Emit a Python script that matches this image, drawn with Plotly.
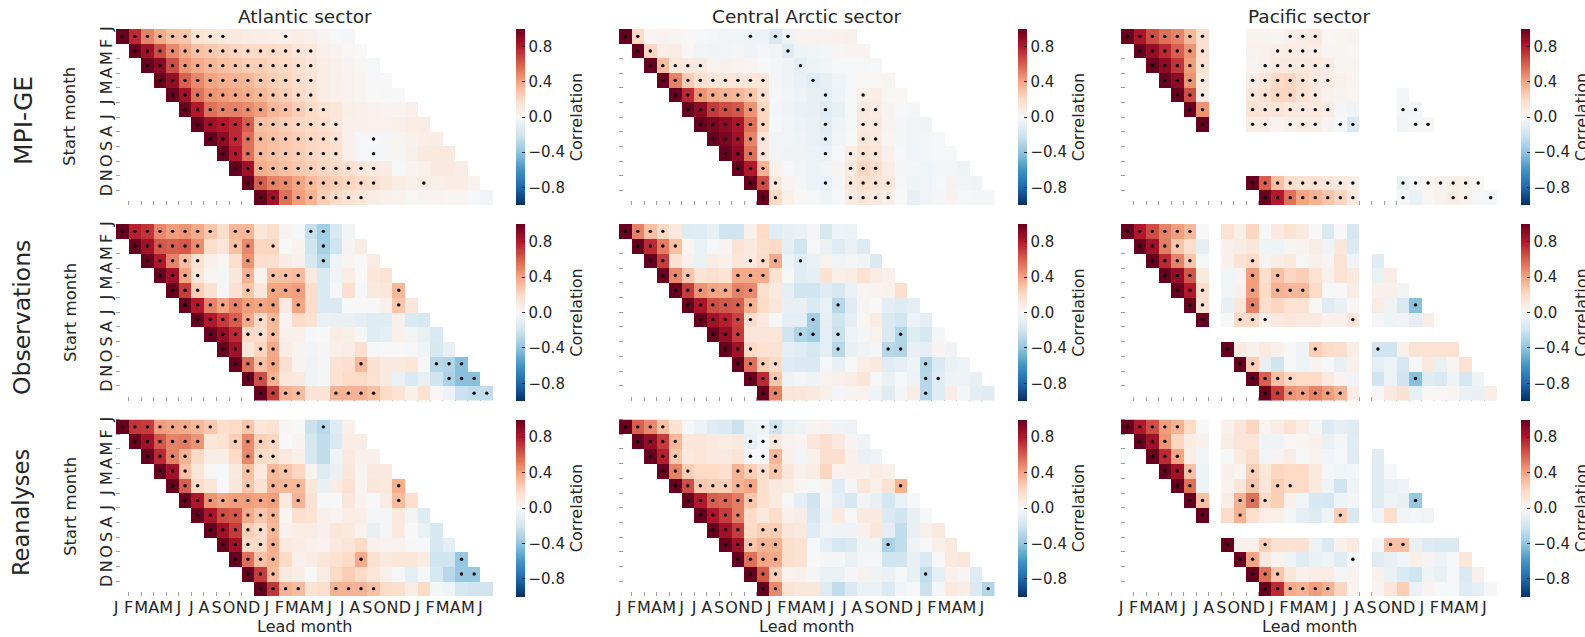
import plotly.graph_objects as go

N = None
MONTHS = ["J","F","M","A","M","J","J","A","S","O","N","D"]
LEAD_LABELS = (MONTHS * 3)[:30]
SECTORS = ["Atlantic sector", "Central Arctic sector", "Pacific sector"]
DATASETS = ["MPI-GE", "Observations", "Reanalyses"]
CBAR_TICKS = [-0.8, -0.4, 0.0, 0.4, 0.8]
RDBU_R = ["#053061","#2166ac","#4393c3","#92c5de","#d1e5f0","#f7f7f7",
          "#fddbc7","#f4a582","#d6604d","#b2182b","#67001f"]

# Each row: correlation at lead 0..18, the first entry is the start month itself.
MPI_ATL = [
[1,.75,.5,.38,.3,.28,.15,.12,.11,.1,.08,.07,.06,.05,.07,.06,.03,-.01,-.02],
[1,.85,.65,.48,.38,.3,.27,.25,.22,.2,.2,.2,.18,.13,.12,.05,.03,.01,0],
[1,.9,.65,.45,.38,.33,.3,.28,.25,.25,.22,.2,.17,.13,.07,.05,.03,.01,-.01],
[1,.88,.6,.48,.4,.36,.35,.33,.28,.25,.22,.18,.15,.07,.05,.04,.02,0,0],
[1,.85,.55,.45,.42,.4,.37,.33,.28,.25,.2,.15,.08,.05,.04,.02,0,-.01,0],
[1,.8,.55,.5,.5,.47,.42,.33,.3,.25,.2,.15,.12,.06,.05,.04,.03,.03,.05],
[1,.85,.8,.75,.6,.3,.28,.25,.22,.2,.17,.12,.05,.05,.04,.04,.06,.08,.08],
[1,.9,.75,.55,.33,.3,.27,.24,.22,.2,.15,.05,-.01,-.01,-.02,.02,.05,.07,.08],
[1,.8,.55,.33,.3,.27,.25,.22,.2,.16,.05,-.01,-.02,-.02,.02,.06,.1,.1,.1],
[1,.85,.37,.33,.3,.27,.25,.22,.2,.17,.13,.1,.08,-.01,.03,.05,.1,.1,.08],
[1,.6,.5,.47,.4,.32,.27,.25,.22,.2,.17,.12,.08,.06,.07,.06,.07,.07,.04],
[1,.85,.55,.42,.35,.25,.2,.15,.13,.07,.05,.04,.01,.03,.03,.02,.02,-.01,-.03],
]
MPI_ATL_SIG = [
[0,1,2,3,4,5,6,7,8,13],[1,2,3,4,5,6,7,8,9,10,11,12,13,14,15],[2,3,4,5,6,7,8,9,10,11,12,13,14,15],
[3,4,5,6,7,8,9,10,11,12,13,14,15],[4,5,6,7,8,9,10,11,12,13,14,15],[5,6,7,8,9,10,11,12,13,14,15,16],
[6,7,8,9,10,11,12,13,14,15,16,17],[7,8,9,10,11,12,13,14,15,16,17,20],[8,9,10,11,12,13,14,15,16,17,20],
[9,10,11,12,13,14,15,16,17,18,19,20],[10,11,12,13,14,15,16,17,18,19,20,24],[11,12,13,14,15,16,17,18,19],
]
OBS_ATL = [
[1,.78,.72,.48,.42,.45,.38,.28,.18,.33,.33,.12,.18,.03,-.01,-.23,-.35,-.17,-.03],
[1,.85,.62,.6,.62,.47,.18,.13,.3,.48,.22,.22,0,.03,-.2,-.33,-.2,.03,.08],
[1,.8,.5,.32,.15,.05,.02,.18,.45,.18,.17,.08,.05,-.17,-.28,-.05,.02,0,.08],
[1,.85,.4,.12,.02,-.02,.12,.35,.03,.3,.3,.32,.1,-.15,-.05,.08,0,.12,.15],
[1,.7,.25,.15,-.01,.15,.28,.12,.4,.4,.42,.18,-.15,-.02,.17,-.01,.1,.12,.33],
[1,.8,.5,.4,.5,.42,.4,.42,.1,.4,.18,-.15,-.15,0,0,0,.05,.28,.12],
[1,.8,.7,.6,.38,.2,.33,.03,.2,.15,-.07,-.08,-.08,-.1,-.12,-.12,.05,-.15,-.17],
[1,.88,.75,.2,.18,.32,.05,.05,-.01,0,.08,.06,-.02,-.12,-.1,.05,-.03,-.08,-.15],
[1,.85,.13,.22,.38,.08,.03,-.03,-.02,.06,.08,.17,-.01,0,0,-.01,-.05,-.17,-.08],
[1,.55,.3,.4,.17,.03,-.05,-.02,.15,.17,.33,.15,.1,.1,.12,-.01,-.28,-.3,-.42],
[1,.65,.35,.12,.1,-.05,-.02,.15,.2,.2,.15,.1,-.07,-.15,-.08,-.2,-.32,-.42,-.42],
[1,.7,.35,.32,.14,.14,.35,.35,.35,.3,.2,.15,.05,.15,.01,-.06,-.22,-.25,-.25],
]
OBS_ATL_SIG = [
[0,1,2,3,4,5,6,7,9,10,15,16],[1,2,3,4,5,6,9,10,12,16],[2,3,4,5,6,10,16],[3,4,5,6,10,12,13,14],
[4,5,6,10,12,13,14,22],[5,6,7,8,9,10,11,12,14,22],[6,7,8,9,10,11,12],[7,8,9,10,11,12],
[8,9,11,12],[9,10,11,12,19,25,26,27],[10,11,12,26,27,28],[11,12,13,14,17,18,19,20,28,29],
]
REA_ATL = [
[1,.72,.7,.42,.4,.38,.33,.27,.18,.2,.28,.12,.15,.02,0,-.22,-.28,-.12,.05],
[1,.85,.62,.5,.52,.45,.12,.15,.25,.48,.25,.22,0,.03,-.18,-.25,-.15,.08,.08],
[1,.75,.5,.35,.2,.08,.07,.2,.48,.2,.18,.1,.06,-.17,-.25,-.05,.1,.05,.05],
[1,.85,.3,.12,.01,-.01,.1,.3,.1,.33,.28,.22,.03,-.13,-.07,.12,.02,.1,.1],
[1,.6,.2,.13,0,.12,.28,.15,.35,.33,.33,.12,-.08,.08,.15,.02,.12,.1,.37],
[1,.82,.45,.4,.42,.42,.4,.42,.1,.35,.15,0,0,.12,.03,0,.08,.32,.17],
[1,.82,.65,.62,.38,.28,.35,.02,.17,.15,.05,.03,.07,.07,-.02,-.02,.1,-.03,-.12],
[1,.85,.7,.25,.2,.33,.05,.07,.08,.05,.12,.1,.04,-.08,-.02,.1,0,-.07,-.17],
[1,.85,.2,.2,.37,.1,.08,.05,.04,.1,.13,.2,.05,.04,.04,-.01,-.01,-.17,-.1],
[1,.55,.3,.35,.2,.05,.08,.12,.15,.2,.38,.15,.1,.12,.12,.08,-.2,-.2,-.38],
[1,.7,.32,.1,.07,0,.08,.2,.25,.2,.13,.06,-.01,-.1,-.02,-.18,-.28,-.38,-.38],
[1,.72,.35,.32,.15,.18,.35,.35,.35,.3,.2,.18,.08,.2,-.02,-.05,-.18,-.2,-.2],
]
REA_ATL_SIG = [
[0,1,2,3,4,5,6,7,10,16],[1,2,3,4,5,6,9,10,11,12],[2,3,4,5,10,11,12],[3,4,5,10,12,13],
[4,5,6,10,12,13,14,22],[5,6,7,8,9,10,11,12,14,22],[6,7,8,9,10,11,12],[7,8,9,10,11,12],
[8,9,10,11,12],[9,10,11,12,19,27],[10,11,12,27,28],[11,12,13,14,17,18,19,20],
]
MPI_CEN = [
[1,.2,.02,.03,.02,.01,-.01,-.02,-.03,-.03,-.05,-.06,-.15,-.05,.04,.04,.04,.05,.06],
[1,.22,.07,.08,.01,-.03,-.04,-.03,-.02,-.04,-.02,-.03,-.13,-.05,-.03,-.02,.02,.03,.03],
[1,.32,.12,.1,.1,.04,.05,.04,.02,0,-.02,-.04,-.1,-.05,-.03,-.01,-.01,-.01,0],
[1,.5,.25,.17,.12,.12,.12,.12,.13,-.02,-.05,-.08,-.12,-.08,-.03,-.01,.01,.01,.02],
[1,.75,.45,.38,.35,.33,.28,.17,-.01,-.03,-.06,-.08,-.1,-.06,-.01,.06,.07,.01,.01],
[1,.9,.7,.65,.62,.45,.22,-.02,-.04,-.07,-.08,-.12,-.08,-.01,.1,.08,.03,-.01,-.02],
[1,.95,.9,.82,.55,.22,-.01,-.03,-.06,-.07,-.11,-.05,-.01,.1,.1,.03,-.02,-.03,-.04],
[1,.95,.85,.5,.12,-.03,-.03,-.05,-.07,-.1,-.03,0,.12,.1,.02,-.02,-.03,-.02,-.01],
[1,.9,.55,.13,-.03,-.04,-.04,-.06,-.07,-.01,.08,.15,.13,.05,-.01,-.03,-.02,-.01,-.01],
[1,.8,.35,.04,-.01,-.03,-.06,-.03,.03,.1,.22,.17,.07,-.02,-.02,-.03,-.02,-.02,-.05],
[1,.65,.12,.03,-.02,-.06,-.07,-.02,.12,.17,.15,.12,-.01,-.05,-.03,-.01,.04,-.03,-.04],
[1,.2,.06,.01,-.01,-.05,-.01,.08,.13,.1,.06,0,-.08,-.03,-.02,.04,-.01,-.02,-.02],
]
MPI_CEN_SIG = [
[0,1,10,12,13],[1,2,13],[2,3,4,5,6,14],[3,4,5,6,7,8,9,10,11,15],[4,5,6,7,8,9,10,11,16,19],
[5,6,7,8,9,10,11,16,19,20],[6,7,8,9,10,11,16,19,20],[7,8,9,10,11,16,19,20],[8,9,10,11,16,18,19,20],
[9,10,11,18,19,20],[10,11,12,16,18,19,20,21],[11,12,18,19,20,21],
]
OBS_CEN = [
[1,.5,.3,.2,.1,-.13,-.12,-.08,-.2,-.2,.05,.2,-.12,-.08,-.07,-.02,-.17,-.05,-.06],
[1,.75,.52,.3,.02,-.07,-.01,.03,.15,.1,.18,.2,-.1,-.2,-.01,-.07,-.12,-.07,-.13],
[1,.7,.15,.05,-.07,.08,.05,.12,.1,.2,.38,-.05,-.12,-.07,.04,-.03,-.02,-.03,-.15],
[1,.48,.28,.14,.17,.14,.38,.38,.38,.15,-.01,-.12,-.1,.15,.06,.08,.15,.08,.05],
[1,.7,.45,.4,.38,.5,.48,.18,.1,-.1,-.2,-.2,-.12,-.17,-.07,.02,.03,.04,.17],
[1,.82,.65,.62,.6,.35,.2,.12,-.08,-.08,-.15,-.07,-.28,-.12,.02,0,-.1,-.13,-.1],
[1,.85,.78,.68,.18,.1,.01,-.1,-.1,-.35,-.08,-.2,-.1,.01,.08,-.15,-.2,-.06,-.1],
[1,.88,.7,.13,.13,.12,-.2,-.3,-.35,-.1,-.22,-.06,-.02,.04,-.15,-.3,-.12,-.17,-.02],
[1,.85,.2,.15,.15,-.1,-.12,-.17,-.1,-.28,-.08,-.05,-.02,-.28,-.3,-.08,-.1,.03,-.04],
[1,.55,.25,.2,-.13,-.15,-.15,-.01,-.08,-.01,.07,.1,-.12,-.1,-.05,-.3,-.15,-.07,-.06],
[1,.75,.28,-.05,-.02,-.04,.04,.05,.08,.12,-.01,-.07,-.01,-.06,-.28,-.12,-.06,-.06,-.08],
[1,.5,.13,.12,.1,.06,-.02,.03,.04,-.05,-.12,-.02,.08,-.28,-.12,.08,-.02,-.1,-.12],
]
OBS_CEN_SIG = [
[0,1,2,3],[1,2,3,4],[2,3,10,11,12,14],[3,4,5,9,10,11],[4,5,6,7,8,9,10],[5,6,7,8,9,10,17],
[6,7,8,9,10,15],[7,8,9,14,15,17,22],[8,9,10,17,21,22],[9,10,11,12,24],[10,11,12,24,25],[11,12,24],
]
REA_CEN = [
[1,.6,.48,.3,.15,-.01,-.06,-.12,-.15,-.22,-.06,-.04,-.2,-.07,-.06,.03,.04,-.05,-.06],
[1,.88,.7,.33,.12,.12,.1,.08,.1,-.07,-.02,.12,.04,.03,.12,.17,.1,.03,-.04],
[1,.78,.28,.1,.12,.1,.1,.14,-.01,-.01,.33,.05,-.03,.05,.17,.17,.05,-.07,-.04],
[1,.5,.25,.2,.2,.17,.35,.25,.17,.28,.12,.05,.08,.22,.04,.05,.05,.08,.06],
[1,.65,.27,.25,.25,.35,.4,.17,.1,.08,.02,-.01,.03,-.12,-.02,.12,.06,.15,.35],
[1,.8,.6,.58,.52,.28,.17,.1,.01,-.1,-.2,-.02,-.1,-.17,-.03,-.08,-.18,-.07,-.01],
[1,.82,.7,.52,.2,.1,.18,.05,.08,-.17,-.05,.1,-.01,.1,.1,-.15,-.2,-.08,0],
[1,.85,.7,.2,.25,.25,.12,.1,-.12,-.03,-.04,-.05,.05,.12,-.1,-.25,-.08,.05,.1],
[1,.85,.28,.35,.35,.18,.15,-.01,-.1,-.18,-.15,-.05,-.05,-.32,-.25,-.06,-.01,.06,.1],
[1,.55,.4,.38,.18,.15,0,-.02,-.02,-.07,-.02,-.02,-.2,-.2,-.08,-.15,0,.1,.12],
[1,.62,.25,.04,.05,-.02,-.07,-.07,-.02,.04,-.05,-.07,-.01,-.08,-.25,-.1,.05,.01,-.12],
[1,.48,.15,.12,.12,-.13,-.25,-.15,-.07,-.07,-.15,-.03,0,-.22,-.02,.1,.08,-.15,-.3],
]
REA_CEN_SIG = [
[0,1,2,3,11,12],[1,2,3,4,10,11,12],[2,3,4,10,11,12],[3,4,5,9,10,11,12],[4,5,6,7,8,9,10,22],
[5,6,7,8,9,10],[6,7,8,9],[7,8,9,11,12],[8,9,10,11,12,21],[9,10,11,12],[10,11,12,24],[11,12,29],
]
MPI_PAC = [
[1,.82,.65,.55,.5,.33,.17,N,N,N,.03,.03,.02,.05,.08,.1,.01,.02,.03],
[1,.88,.75,.6,.45,.17,N,N,N,.04,.05,.07,.08,.08,.07,.02,.02,.01,N],
[1,.9,.72,.42,.15,N,N,N,.03,.05,.1,.1,.1,.1,.08,.02,.02,N,N],
[1,.9,.45,.1,N,N,N,.08,.12,.2,.22,.15,.1,.08,.05,.03,N,N,N],
[1,.65,.08,N,N,N,.12,.15,.22,.22,.15,.1,.05,.03,.02,N,N,N,-.02],
[1,.45,N,N,N,.15,.13,.13,.1,.1,.1,.08,-.02,-.03,N,N,N,-.02,-.02],
[1,N,N,N,.08,.08,.03,.06,.07,.07,.03,-.01,-.15,N,N,N,-.03,-.01,.01],
[N]*19,
[N]*19,
[N]*19,
[1,.6,.3,.18,.15,.15,.12,.1,.06,N,N,N,-.08,-.02,.02,.03,.06,.05,.01],
[1,.8,.55,.4,.35,.28,.22,.1,N,N,N,-.02,-.07,.01,.04,.07,.05,-.01,-.02],
]
MPI_PAC_SIG = [
[0,1,2,3,4,5,6,13,14,15],[1,2,3,4,5,6,12,13,14,15],[2,3,4,5,6,11,12,13,14,15,16],
[3,4,5,6,10,11,12,13,14,15,16],[4,5,6,10,11,12,13,14,15],[5,6,10,11,12,13,14,15,16,22,23],
[6,10,11,13,14,15,17,18,23,24],[],[],[],[10,11,12,13,14,15,16,17,18,22,23,24,25,26,27,28],
[11,12,13,14,15,16,17,18,22,26,27,29],
]
OBS_PAC = [
[1,.8,.65,.5,.42,.33,0,N,.15,.06,.22,0,.1,.15,.1,0,-.15,0,-.18],
[1,.85,.52,.28,.18,-.1,N,.05,.08,.12,-.05,-.05,.02,.03,.08,-.04,.12,-.15,N],
[1,.75,.5,.28,-.01,N,.05,.15,.2,.03,.07,.1,.01,.05,.03,.15,-.03,N,-.12],
[1,.88,.62,.1,N,-.03,.03,.42,.18,.3,.22,.25,.15,.05,.15,.1,N,-.07,.08],
[1,.8,.18,N,-.03,.05,.42,.2,.35,.33,.33,.2,0,0,.08,N,.05,.06,-.03],
[1,.17,N,-.08,.12,.5,.18,.22,.15,.15,.01,-.12,-.08,.01,N,.08,-.04,-.15,-.42],
[1,N,0,.2,.2,.05,.1,.12,.1,.1,.05,.05,.12,N,-.02,-.05,-.03,-.1,.07],
[N]*19,
[1,.1,.05,.1,.05,0,-.04,.25,.2,.18,.07,N,-.2,-.2,.05,.15,.15,.15,.15],
[1,.25,-.08,-.2,0,-.05,.03,-.01,-.08,.05,N,-.1,-.06,-.18,-.01,.1,-.08,.02,.15],
[1,.6,.3,.22,.2,.2,.1,.03,-.03,N,-.2,-.06,-.2,-.42,-.12,-.15,-.05,-.18,-.05],
[1,.7,.45,.42,.5,.42,.35,.08,N,.01,.1,.15,-.08,.01,.01,.02,-.07,-.08,.07],
]
OBS_PAC_SIG = [
[0,1,2,3,4,5],[1,2,3,4],[2,3,4,5,10],[3,4,5,10,12],[4,5,6,10,12,13,14],[5,6,10,23],
[6,9,10,11,18],[],[8,15,20],[9,10],[10,11,12,13,23],[11,12,13,14,15,16,17],
]
REA_PAC = [
[1,.8,.65,.42,.35,.2,0,N,.05,.13,.22,.03,.08,.15,.08,-.02,-.15,-.1,-.13],
[1,.85,.45,.22,.08,.05,N,.08,.13,.13,-.04,-.05,.01,.02,.05,-.07,-.02,-.12,N],
[1,.75,.4,.07,-.03,N,-.01,.1,.18,-.03,.03,.08,-.01,.04,-.03,-.01,-.13,N,-.12],
[1,.85,.3,-.05,N,.05,.02,.25,.12,.22,.2,.2,.1,-.01,-.03,-.02,N,-.12,-.01],
[1,.55,-.05,N,.04,.12,.28,.13,.25,.2,.2,.1,-.05,-.2,-.05,N,-.12,-.07,-.04],
[1,.3,N,.07,.35,.55,.2,.25,.05,-.03,-.17,-.18,-.05,-.02,N,-.12,-.05,-.08,-.38],
[1,N,.2,.35,.17,.07,.06,-.02,-.1,-.13,-.04,.25,-.17,N,-.03,.18,-.03,-.02,-.03],
[N]*19,
[1,.05,.05,.25,.15,.15,.15,-.06,-.15,.05,.1,N,-.02,.3,.3,-.08,-.13,-.15,-.15],
[1,.4,.1,.04,-.05,-.12,-.07,-.05,-.12,-.01,N,-.12,-.08,-.03,.06,.03,-.06,-.01,.12],
[1,.55,.28,.12,.05,.08,.08,-.02,.03,N,.05,-.07,-.15,-.2,-.05,-.08,-.01,-.15,.05],
[1,.75,.38,.35,.42,.35,.22,.03,N,.03,.13,.25,-.07,.03,-.01,-.01,-.13,-.1,-.02],
]
REA_PAC_SIG = [
[0,1,2,3,4],[1,2,3],[2,3,4],[3,4,5,10],[4,5,10,12,13],[5,6,9,10,11,23],[6,9,17],[],
[8,11,21,22],[9,10,18],[10,11,12],[11,12,13,14,15,16],
]

PANELS = [[(MPI_ATL, MPI_ATL_SIG), (MPI_CEN, MPI_CEN_SIG), (MPI_PAC, MPI_PAC_SIG)],
          [(OBS_ATL, OBS_ATL_SIG), (OBS_CEN, OBS_CEN_SIG), (OBS_PAC, OBS_PAC_SIG)],
          [(REA_ATL, REA_ATL_SIG), (REA_CEN, REA_CEN_SIG), (REA_PAC, REA_PAC_SIG)]]

W, H = 1585, 637
COL_X = [(116, 493), (619, 994.5), (1121, 1497)]
ROW_Y = [(29, 205), (224, 400.5), (419.5, 596)]
CBAR_X = [516, 1018, 1521]
FONT = "DejaVu Sans"
INK = "#262626"

fig = go.Figure()
layout = {}
idx = 0
for r in range(3):
    for c in range(3):
        idx += 1
        vals, sig = PANELS[r][c]
        z = [[None] * 30 for _ in range(12)]
        for i, row in enumerate(vals):
            assert len(row) == 19, (r, c, i, len(row))
            for lead, v in enumerate(row):
                if i + lead < 30:
                    z[i][i + lead] = v
        xn, yn = f"x{idx}", f"y{idx}"
        fig.add_trace(go.Heatmap(
            z=z, x=[k + .5 for k in range(30)], y=[k + .5 for k in range(12)],
            xaxis=xn, yaxis=yn, zmin=-1, zmax=1, colorscale=RDBU_R, hoverongaps=False,
            colorbar=dict(
                x=CBAR_X[c] / W, xanchor="left", y=1 - ROW_Y[r][0] / H, yanchor="top",
                lenmode="pixels", len=ROW_Y[r][1] - ROW_Y[r][0], thicknessmode="pixels",
                thickness=9, xpad=0, ypad=0, outlinewidth=0,
                tickmode="array", tickvals=CBAR_TICKS, tickformat=".1f",
                ticks="inside", ticklen=3, tickcolor=INK, tickfont=dict(family=FONT, size=15, color=INK),
                title=dict(text="Correlation", side="right", font=dict(family=FONT, size=16, color=INK)),
            )))
        sx = [k + .5 for i, cols in enumerate(sig) for k in cols]
        sy = [i + .5 for i, cols in enumerate(sig) for k in cols]
        fig.add_trace(go.Scatter(x=sx, y=sy, xaxis=xn, yaxis=yn, mode="markers", showlegend=False,
                                 marker=dict(color="black", size=3.4)))
        ax = "" if idx == 1 else str(idx)
        layout["xaxis" + ax] = dict(
            domain=[COL_X[c][0] / W, COL_X[c][1] / W], range=[0, 30], anchor=yn,
            tickmode="array", tickvals=list(range(30)),
            ticktext=LEAD_LABELS if r == 2 else [""] * 30, tickangle=0,
            ticks="inside", ticklen=4, tickcolor="#a0a0a0", tickwidth=1, layer="below traces",
            showgrid=False, zeroline=False, showline=False, automargin=False,
            tickfont=dict(family=FONT, size=16, color=INK))
        layout["yaxis" + ax] = dict(
            domain=[1 - ROW_Y[r][1] / H, 1 - ROW_Y[r][0] / H], range=[12, 0], anchor=xn,
            tickmode="array", tickvals=[k + .14 for k in range(12)],
            ticktext=MONTHS if c == 0 else [""] * 12, tickangle=-90,
            ticks="", layer="below traces",
            minor=dict(tickmode="array", tickvals=list(range(12)), ticks="inside", ticklen=4,
                       tickcolor="#a0a0a0", tickwidth=1, showgrid=False),
            showgrid=False, zeroline=False, showline=False, automargin=False,
            tickfont=dict(family=FONT, size=16, color=INK))

ann = []
def label(text, x, y, size, angle=0):
    ann.append(dict(text=text, x=x / W, y=1 - y / H, xref="paper", yref="paper", showarrow=False,
                    xanchor="center", yanchor="middle", textangle=angle,
                    font=dict(family=FONT, size=size, color=INK)))
for c, s in enumerate(SECTORS):
    label(s, sum(COL_X[c]) / 2, 17, 18.5)
    label("Lead month", sum(COL_X[c]) / 2, 626, 16)
for name, y0, y1, x0, sz in zip(DATASETS, (121, 318, 513), (117, 313, 507), (23, 22, 21), (25, 23.5, 22.5)):
    label(name, x0, y0, sz, -90)
    label("Start month", 70, y1, 16.5, -90)

fig.update_layout(width=W, height=H, margin=dict(l=0, r=0, t=0, b=0, autoexpand=False), showlegend=False,
                  plot_bgcolor="white", paper_bgcolor="white", annotations=ann, **layout)
fig.write_html("out.html", config={"displayModeBar": False}, post_script="document.body.style.margin='0';")
